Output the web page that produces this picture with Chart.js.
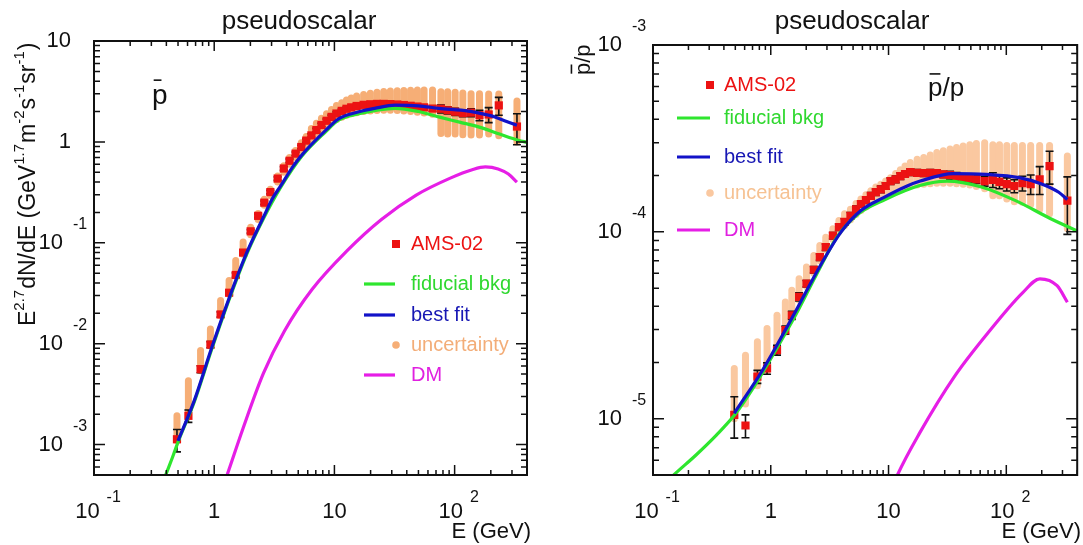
<!DOCTYPE html>
<html>
<head>
<meta charset="utf-8">
<script src="https://cdn.jsdelivr.net/npm/chart.js@4.4.0/dist/chart.umd.min.js"></script>
<style>
  html, body { margin: 0; padding: 0; background: #fff; overflow: hidden; }
  #wrap { position: relative; width: 1083px; height: 545px; }
  canvas { position: absolute; top: 0; }
</style>
</head>
<body>
<div id="wrap">
  <canvas id="flux" width="541" height="545" style="left:0"></canvas>
  <canvas id="ratio" width="542" height="545" style="left:541px"></canvas>
</div>
<script>
// AMS-02 points (kinetic energy, GeV)
const amsE = [0.49, 0.61, 0.77, 0.93, 1.13, 1.33, 1.51, 1.74, 2.01, 2.32, 2.61, 2.93, 3.37, 3.79, 4.23, 4.75,
  5.3, 5.83, 6.43, 7.08, 7.8, 8.6, 9.46, 10.4, 11.5, 12.6, 13.8, 15.3, 17.5, 19.9, 22.6, 25.7,
  29.2, 33.3, 37.8, 43, 49, 55.7, 65.5, 76.9, 87.5, 101, 117, 137, 161, 192, 233, 330];
const amsFlux = [1.13e-3, 1.93e-3, 5.6e-3, 9.8e-3, 0.0195, 0.032, 0.048, 0.08, 0.13, 0.185, 0.25, 0.318, 0.433, 0.545, 0.65, 0.765,
  0.89, 1.03, 1.16, 1.31, 1.47, 1.62, 1.77, 1.91, 2.03, 2.13, 2.2, 2.27, 2.33, 2.36, 2.38, 2.38,
  2.37, 2.35, 2.32, 2.28, 2.24, 2.2, 2.14, 2.13, 2.06, 1.99, 1.93, 1.95, 1.84, 1.87, 2.3, 1.42];
const amsRatio = [1.05e-5, 9.2e-6, 1.68e-5, 1.86e-5, 2.33e-5, 2.98e-5, 3.58e-5, 4.49e-5, 5.28e-5, 6.27e-5, 7.33e-5, 8.28e-5, 9.54e-5, 1.06e-4, 1.13e-4, 1.22e-4,
  1.32e-4, 1.41e-4, 1.48e-4, 1.56e-4, 1.63e-4, 1.69e-4, 1.76e-4, 1.87e-4, 1.91e-4, 1.99e-4, 2.04e-4, 2.09e-4, 2.07e-4, 2.06e-4, 2.07e-4, 2.06e-4,
  2.03e-4, 2.01e-4, 1.98e-4, 1.95e-4, 1.93e-4, 1.91e-4, 1.87e-4, 1.9e-4, 1.85e-4, 1.8e-4, 1.76e-4, 1.82e-4, 1.8e-4, 1.91e-4, 2.25e-4, 1.47e-4];
const amsErrPct = [25, 14, 8, 7, 6, 5, 5, 5, 4, 4, 4, 4, 4, 4, 4, 4,
  4, 4, 4, 4, 4, 4, 4, 4, 4, 4, 4, 4, 4, 4, 4, 4,
  4, 5, 5, 5, 5, 5, 6, 9, 8, 8, 8, 9, 12, 17, 20, 34];

// uncertainty band (lower / upper end of each column)
const fluxUncLo = [1.1e-3, 2.0e-3, 5.4e-3, 9.5e-3, 0.019, 0.031, 0.047, 0.077, 0.12, 0.17, 0.235, 0.295, 0.4, 0.5, 0.6, 0.7,
  0.82, 0.94, 1.06, 1.19, 1.32, 1.44, 1.56, 1.67, 1.76, 1.84, 1.9, 1.95, 2.0, 2.03, 2.05, 2.06,
  2.06, 2.05, 2.03, 2.0, 1.97, 1.93, 1.88, 1.21, 1.2, 1.2, 1.18, 1.17, 1.17, 1.2, 1.15, 1.0];
const fluxUncHi = [1.93e-3, 4.3e-3, 8.55e-3, 0.014, 0.0268, 0.0424, 0.0669, 0.1016, 0.143, 0.195, 0.27, 0.34, 0.46, 0.58, 0.7, 0.82,
  0.98, 1.13, 1.36, 1.53, 1.72, 1.9, 2.1, 2.3, 2.45, 2.6, 2.72, 2.85, 2.95, 3.03, 3.1, 3.15,
  3.2, 3.22, 3.24, 3.25, 3.26, 3.27, 3.27, 3.14, 3.14, 3.1, 3.05, 3.0, 3.0, 2.98, 2.98, 2.55];
const ratioUncLo = [1.0e-5, 1.2e-5, 1.5e-5, 1.8e-5, 2.3e-5, 2.9e-5, 3.5e-5, 4.3e-5, 5.1e-5, 6.0e-5, 7.0e-5, 8.0e-5, 9.1e-5, 1.0e-4, 1.08e-4, 1.16e-4,
  1.24e-4, 1.3e-4, 1.36e-4, 1.42e-4, 1.47e-4, 1.52e-4, 1.57e-4, 1.62e-4, 1.66e-4, 1.7e-4, 1.73e-4, 1.76e-4, 1.78e-4, 1.8e-4, 1.81e-4, 1.82e-4,
  1.82e-4, 1.82e-4, 1.81e-4, 1.8e-4, 1.78e-4, 1.75e-4, 1.7e-4, 1.56e-4, 1.56e-4, 1.5e-4, 1.45e-4, 1.44e-4, 1.4e-4, 1.32e-4, 1.25e-4, 1.04e-4];
const ratioUncHi = [1.86e-5, 2.19e-5, 2.58e-5, 3.04e-5, 3.58e-5, 4.22e-5, 4.87e-5, 5.61e-5, 6.48e-5, 7.47e-5, 8.45e-5, 9.36e-5, 1.04e-4, 1.15e-4, 1.25e-4, 1.32e-4,
  1.42e-4, 1.5e-4, 1.58e-4, 1.66e-4, 1.74e-4, 1.8e-4, 1.87e-4, 1.95e-4, 2.05e-4, 2.15e-4, 2.25e-4, 2.35e-4, 2.45e-4, 2.5e-4, 2.58e-4, 2.66e-4,
  2.72e-4, 2.78e-4, 2.83e-4, 2.88e-4, 2.93e-4, 2.97e-4, 3.0e-4, 2.93e-4, 2.93e-4, 2.9e-4, 2.9e-4, 2.9e-4, 2.9e-4, 2.9e-4, 2.9e-4, 2.55e-4];

// model curves, left panel (E^2.7 flux)
const bkgFluxE = [0.35, 0.39, 0.45, 0.5, 0.68, 0.95, 1.32, 1.85, 2.57, 3.59, 5.35, 8.45, 10.9, 16, 21.6, 32, 50, 73.5, 110, 158, 240, 339, 400];
const bkgFlux = [3.3e-4, 4.8e-4, 7.5e-4, 1.06e-3, 2.62e-3, 8.7e-3, 0.0267, 0.0756, 0.174, 0.358, 0.72, 1.26, 1.65, 1.9, 2.04, 2.15, 2.0, 1.77, 1.57, 1.41, 1.19, 1.04, 0.99];
const fitFluxE = [0.5, 0.68, 0.95, 1.32, 1.85, 2.57, 3.05, 3.59, 4.47, 5.35, 8.45, 10.9, 16, 21.6, 32, 50, 73.5, 130, 160, 206, 260, 330];
const fitFlux = [1.09e-3, 2.7e-3, 9.0e-3, 0.0275, 0.078, 0.18, 0.274, 0.37, 0.56, 0.74, 1.3, 1.7, 1.99, 2.15, 2.31, 2.28, 2.15, 2.02, 1.93, 1.8, 1.62, 1.46];
const dmFluxE = [1.15, 1.28, 1.73, 2.57, 3.83, 6.53, 12.7, 24.6, 47.9, 93, 140, 180, 230, 280, 330];
const dmFlux = [3.5e-4, 5e-4, 1.43e-3, 5.1e-3, 0.0133, 0.0346, 0.083, 0.17, 0.297, 0.44, 0.53, 0.565, 0.54, 0.48, 0.40];

// model curves, right panel (pbar/p)
const bkgRatioE = [0.13, 0.155, 0.232, 0.347, 0.5, 0.728, 1.09, 1.63, 2.44, 3.66, 5.47, 9.36, 18.4, 31.4, 61.5, 120, 236, 417];
const bkgRatio = [4.6e-6, 5.1e-6, 6.4e-6, 8.2e-6, 1.06e-5, 1.5e-5, 2.3e-5, 3.6e-5, 5.9e-5, 9.4e-5, 1.24e-4, 1.49e-4, 1.77e-4, 1.87e-4, 1.74e-4, 1.47e-4, 1.18e-4, 1.0e-4];
const fitRatioE = [0.49, 0.843, 1.51, 2.69, 3.96, 5.83, 9.16, 14.4, 18.6, 35.5, 67.6, 129, 202, 279, 330];
const fitRatio = [1.07e-5, 1.8e-5, 3.45e-5, 6.75e-5, 1.0e-4, 1.3e-4, 1.53e-4, 1.76e-4, 1.87e-4, 2.05e-4, 2.03e-4, 1.95e-4, 1.8e-4, 1.63e-4, 1.49e-4];
const dmRatioE = [10.5, 11.9, 18.4, 36, 70.5, 138, 193, 270, 330];
const dmRatio = [4.1e-6, 5e-6, 8.4e-6, 1.67e-5, 2.9e-5, 4.73e-5, 5.61e-5, 5.15e-5, 4.2e-5];

// tick labels: [value, base, exponent]
const xTickLabels = [[0.1, '10', '-1'], [1, '1', ''], [10, '10', ''], [100, '10', '2']];
const fluxTickLabels = [[10, '10', ''], [1, '1', ''], [0.1, '10', '-1'], [0.01, '10', '-2'], [0.001, '10', '-3']];
const ratioTickLabels = [[1e-3, '10', '-3'], [1e-4, '10', '-4'], [1e-5, '10', '-5']];
const legendNames = ['AMS-02', 'fiducial bkg', 'best fit', 'uncertainty', 'DM'];

const RED = '#ec1212', GREEN = '#2ee62e', BLUE = '#1212c8', MAGENTA = '#e61ee6';
const FONT = '"Liberation Sans", Arial, Helvetica, sans-serif';

const xy = (xs, ys) => xs.map((x, i) => ({ x, y: ys[i] }));

function curve(label, xs, ys, color) {
  return { type: 'line', label, data: xy(xs, ys), borderColor: color, borderWidth: 3.2,
    pointRadius: 0, fill: false, cubicInterpolationMode: 'monotone' };
}

function logTicks(min, max) {
  const out = [];
  for (let e = Math.floor(Math.log10(min)); e <= Math.ceil(Math.log10(max)); e++) {
    for (let m = 1; m < 10; m++) {
      const v = m * Math.pow(10, e);
      if (v >= min * 0.999 && v <= max * 1.001) out.push({ v, major: m === 1 });
    }
  }
  return out;
}

function text(ctx, s, x, y, size, color, align, base) {
  ctx.font = size + 'px ' + FONT;
  ctx.fillStyle = color;
  ctx.textAlign = align || 'left';
  ctx.textBaseline = base || 'middle';
  ctx.fillText(s, x, y);
  return ctx.measureText(s).width;
}

function decor(o) {
  return {
    id: 'decor',
    beforeDatasetsDraw(chart) {
      const { ctx, scales: { x, y } } = chart;
      ctx.save();
      // uncertainty columns
      ctx.strokeStyle = o.uncColor;
      ctx.lineWidth = 7;
      ctx.lineCap = 'round';
      amsE.forEach((e, i) => {
        const px = x.getPixelForValue(e);
        ctx.beginPath();
        ctx.moveTo(px, y.getPixelForValue(o.uncLo[i]));
        ctx.lineTo(px, y.getPixelForValue(o.uncHi[i]));
        ctx.stroke();
      });
      // AMS error bars
      ctx.strokeStyle = '#111';
      ctx.lineWidth = 1.6;
      ctx.lineCap = 'butt';
      amsE.forEach((e, i) => {
        const px = x.getPixelForValue(e);
        const v = o.ams[i], d = v * amsErrPct[i] / 100;
        const p1 = y.getPixelForValue(v + d), p2 = y.getPixelForValue(v - d);
        ctx.beginPath();
        ctx.moveTo(px, p1); ctx.lineTo(px, p2);
        ctx.moveTo(px - 4, p1); ctx.lineTo(px + 4, p1);
        ctx.moveTo(px - 4, p2); ctx.lineTo(px + 4, p2);
        ctx.stroke();
      });
      ctx.restore();
    },
    afterDraw(chart) {
      const { ctx, chartArea: a, scales: { x, y } } = chart;
      ctx.save();
      // frame and ticks
      ctx.strokeStyle = '#111';
      ctx.lineWidth = 2;
      ctx.strokeRect(a.left, a.top, a.right - a.left, a.bottom - a.top);
      ctx.lineWidth = 1.5;
      ctx.beginPath();
      logTicks(x.min, x.max).forEach(t => {
        const px = x.getPixelForValue(t.v), len = t.major ? 10 : 5;
        ctx.moveTo(px, a.bottom); ctx.lineTo(px, a.bottom - len);
        ctx.moveTo(px, a.top); ctx.lineTo(px, a.top + len);
      });
      logTicks(y.min, y.max).forEach(t => {
        const py = y.getPixelForValue(t.v), len = t.major ? 11 : 6;
        ctx.moveTo(a.left, py); ctx.lineTo(a.left + len, py);
        ctx.moveTo(a.right, py); ctx.lineTo(a.right - len, py);
      });
      ctx.stroke();

      // x tick labels
      xTickLabels.forEach(([v, b, ex]) => {
        const px = x.getPixelForValue(v);
        if (!ex) { text(ctx, b, px, a.bottom + 37, 22, '#111', 'center'); return; }
        ctx.font = '22px ' + FONT; const wb = ctx.measureText(b).width;
        ctx.font = '16px ' + FONT; const we = ctx.measureText(ex).width;
        const start = px + 4 - (wb + 7 + we) / 2;
        text(ctx, b, start, a.bottom + 37, 22, '#111', 'left');
        text(ctx, ex, start + wb + 7, a.bottom + 23, 16, '#111', 'left');
      });
      // y tick labels
      o.yLabels.forEach(([v, b, ex]) => {
        const py = y.getPixelForValue(v);
        if (!ex) { text(ctx, b, a.left - 23, py, 22, '#111', 'right'); return; }
        text(ctx, b, a.left - 31, py, 22, '#111', 'right');
        text(ctx, ex, a.left - 21, py - 18, 16, '#111', 'left');
      });

      // titles
      text(ctx, 'pseudoscalar', o.titleX, 22, 26, '#111', 'center');
      text(ctx, 'E (GeV)', Math.min(a.right + 4, chart.width - 2), 532, 22, '#111', 'right');
      o.yTitle(ctx);
      o.inner(ctx);

      // legend
      const L = o.legend;
      const colors = [RED, GREEN, BLUE, o.uncColor, MAGENTA];
      const tcolors = [RED, '#2fd82f', '#1717b4', o.uncText, '#e020e0'];
      legendNames.forEach((n, i) => {
        const yy = L.ys[i];
        if (i === 0) { ctx.fillStyle = RED; ctx.fillRect(L.mx - 4, yy - 4, 8, 8); }
        else if (i === 3) { ctx.fillStyle = o.uncColor; ctx.beginPath(); ctx.arc(L.mx, yy, 3.8, 0, Math.PI * 2); ctx.fill(); }
        else { ctx.strokeStyle = colors[i]; ctx.lineWidth = 3.2; ctx.beginPath(); ctx.moveTo(L.x0, yy); ctx.lineTo(L.x1, yy); ctx.stroke(); }
        text(ctx, n, L.tx, yy, 20, tcolors[i], 'left');
      });
      ctx.restore();
    }
  };
}

function pbar(ctx, x, y, size, color, frac) {
  // draws "p" with a short overline, returns its width
  const w = text(ctx, 'p', x, y, size, color, 'left', 'alphabetic');
  ctx.fillRect(x + size * 0.06, y - size * 0.88, w * frac, 1.6);
  return w;
}

function panel(id, o) {
  const ctx = document.getElementById(id).getContext('2d');
  return new Chart(ctx, {
    type: 'scatter',
    data: {
      datasets: [
        curve('DM', o.dmE, o.dm, MAGENTA),
        curve('best fit', o.fitE, o.fit, BLUE),
        curve('fiducial bkg', o.bkgE, o.bkg, GREEN),
        { label: 'AMS-02', data: xy(amsE, o.ams), pointStyle: 'rect', pointRadius: 5.8,
          backgroundColor: RED, borderWidth: 0, showLine: false }
      ]
    },
    options: {
      responsive: false, animation: false, devicePixelRatio: 1,
      layout: { padding: o.pad },
      plugins: { legend: { display: false }, tooltip: { enabled: false } },
      scales: {
        x: { type: 'logarithmic', min: 0.1, max: 400, display: false },
        y: { type: 'logarithmic', min: o.ymin, max: o.ymax, display: false }
      }
    },
    plugins: [decor(o)]
  });
}

panel('flux', {
  pad: { left: 94, top: 41, right: 14, bottom: 70 }, ymin: 5e-4, ymax: 10,
  ams: amsFlux, uncLo: fluxUncLo, uncHi: fluxUncHi,
  bkgE: bkgFluxE, bkg: bkgFlux, fitE: fitFluxE, fit: fitFlux, dmE: dmFluxE, dm: dmFlux,
  uncColor: '#f6ae76', uncText: '#f3ad78', yLabels: fluxTickLabels, titleX: 299,
  legend: { x0: 364, x1: 395, mx: 396, tx: 411, ys: [244, 284, 315, 345, 375] },
  yTitle(ctx) {
    ctx.save();
    ctx.translate(29, 326);
    ctx.rotate(-Math.PI / 2);
    const parts = [['E', 0], ['2.7', 1], ['dN/dE (GeV', 0], ['1.7', 1], ['m', 0], ['-2', 1], ['s', 0], ['-1', 1], ['sr', 0], ['-1', 1], [')', 0]];
    let px = 0;
    parts.forEach(([s, sup]) => {
      px += sup ? text(ctx, s, px, -9, 15, '#111', 'left') + 1 : text(ctx, s, px, 0, 23, '#111', 'left');
    });
    ctx.restore();
  },
  inner(ctx) { pbar(ctx, 152, 104, 28, '#111', 0.5); }
});

panel('ratio', {
  pad: { left: 112, top: 45, right: 1, bottom: 70 }, ymin: 5e-6, ymax: 1e-3,
  ams: amsRatio, uncLo: ratioUncLo, uncHi: ratioUncHi,
  bkgE: bkgRatioE, bkg: bkgRatio, fitE: fitRatioE, fit: fitRatio, dmE: dmRatioE, dm: dmRatio,
  uncColor: '#fac8a0', uncText: '#f6c293', yLabels: ratioTickLabels, titleX: 311,
  legend: { x0: 136, x1: 169, mx: 169, tx: 183, ys: [85, 118, 157, 193, 230] },
  yTitle(ctx) {
    ctx.save();
    ctx.translate(49, 75);
    ctx.rotate(-Math.PI / 2);
    const w = pbar(ctx, 0, 0, 22, '#111', 0.75);
    text(ctx, '/p', w, 0, 22, '#111', 'left', 'alphabetic');
    ctx.restore();
  },
  inner(ctx) {
    const w = pbar(ctx, 387, 96, 26, '#111', 0.75);
    text(ctx, '/p', 387 + w, 96, 26, '#111', 'left', 'alphabetic');
  }
});
</script>
</body>
</html>
